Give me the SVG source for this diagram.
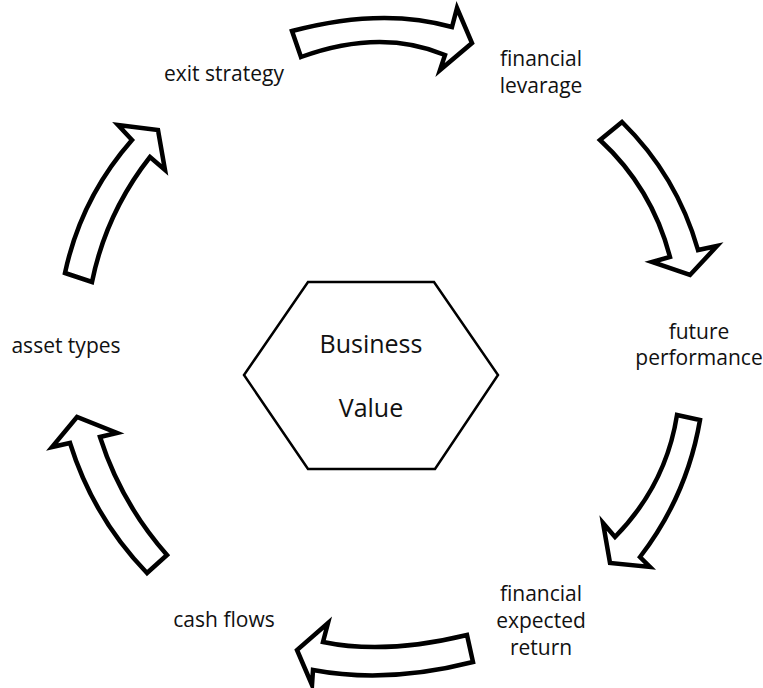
<svg xmlns="http://www.w3.org/2000/svg" width="763" height="688" viewBox="0 0 763 688">
<style>
.arrow{fill:#fff;stroke:#000;stroke-width:4.5;stroke-linejoin:miter;stroke-miterlimit:6}
.hex{fill:#fff;stroke:#000;stroke-width:2.5}
.lbl{font-family:"Open Sans","Noto Sans","Liberation Sans",sans-serif;font-size:21px;fill:#111;text-anchor:middle}
.ctr{font-family:"Open Sans","Noto Sans","Liberation Sans",sans-serif;font-size:25px;fill:#111;text-anchor:middle}
</style>
<rect width="763" height="688" fill="#fff"/>
<g id="connectors">
<path class="arrow" d="M 301,57 L 292,31 Q 382,7 452,27 L 457,8 L 472,43 L 440,70 L 445,55 Q 381,28 301,57 Z"/>
<path class="arrow" d="M 600,140 L 622,122 Q 677,176 698,250 L 717,246 L 690,275 L 652,262 L 670,257 Q 652,188 600,140 Z"/>
<path class="arrow" d="M 677,415 L 700,420 Q 687,496 640,557 L 650,567 L 610,563 L 603,523 L 615,537 Q 666,485 677,415 Z"/>
<path class="arrow" d="M 467,635 L 473,662 Q 387,684 313,670 L 312,685 L 297,650 L 328,623 L 323,642 Q 385,655 467,635 Z"/>
<path class="arrow" d="M 147,573 L 167,555 Q 121,503 100,437 L 117,433 L 77,417 L 52,447 L 70,443 Q 93,517 147,573 Z"/>
<path class="arrow" d="M 65,273 L 92,282 Q 106,213 150,157 L 165,170 L 158,130 L 118,125 L 132,140 Q 81,198 65,273 Z"/>
</g>
<g id="business-value">
<polygon class="hex" points="308,282 434,282 498,375 435,469 308,469 244,375"/>
<text class="ctr" x="371" y="353">Business</text>
<text class="ctr" x="371" y="417">Value</text>
</g>
<g id="financial-levarage">
<text class="lbl" x="541" y="66">financial</text>
<text class="lbl" x="541" y="93">levarage</text>
</g>
<g id="future-performance">
<text class="lbl" x="699" y="339">future</text>
<text class="lbl" x="699" y="365">performance</text>
</g>
<g id="financial-expected-return">
<text class="lbl" x="541" y="601">financial</text>
<text class="lbl" x="541" y="628">expected</text>
<text class="lbl" x="541" y="655">return</text>
</g>
<g id="cash-flows">
<text class="lbl" x="224" y="627">cash flows</text>
</g>
<g id="asset-types">
<text class="lbl" x="66" y="353">asset types</text>
</g>
<g id="exit-strategy">
<text class="lbl" x="224" y="81">exit strategy</text>
</g>
</svg>
